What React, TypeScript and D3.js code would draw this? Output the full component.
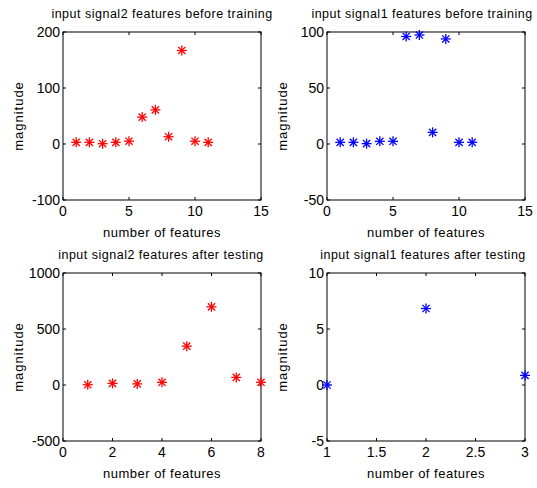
import React from "react";
import * as d3 from "d3";

// Feature magnitudes per panel
const featTrain2 = [3, 3, 0.5, 3, 5, 48, 61, 13, 167, 5, 3];
const featTrain1 = [1.5, 1.5, 0.3, 2.4, 2.4, 96, 97.3, 10.4, 93.8, 1.5, 1.5];
const featTest2 = [2, 15, 10, 24, 347, 698, 68, 24];
const featTest1 = [0, 6.83, 0.86];

const titles = [
  "input signal2 features before training",
  "input signal1 features before training",
  "input signal2 features after testing",
  "input signal1 features after testing",
];

const xTicksTrain = [0, 5, 10, 15];
const yTicksTrain2 = [-100, 0, 100, 200];
const yTicksTrain1 = [-50, 0, 50, 100];
const xTicksTest2 = [0, 2, 4, 6, 8];
const yTicksTest2 = [-500, 0, 500, 1000];
const xTicksTest1 = [1, 1.5, 2, 2.5, 3];
const yTicksTest1 = [-5, 0, 5, 10];

type PanelProps = {
  left: number;
  top: number;
  title: string;
  titleDx: number;
  values: number[];
  xDomain: [number, number];
  yDomain: [number, number];
  xTicks: number[];
  yTicks: number[];
  color: string;
};

const W = 198;
const H = 168;
const FONT = "Liberation Sans, Arial, sans-serif";

function Star({ x, y, color }: { x: number; y: number; color: string }) {
  const r = 5;
  const d = 3.6;
  return (
    <g stroke={color} strokeWidth={1.3}>
      <line x1={x - r} y1={y} x2={x + r} y2={y} />
      <line x1={x} y1={y - r} x2={x} y2={y + r} />
      <line x1={x - d} y1={y - d} x2={x + d} y2={y + d} />
      <line x1={x - d} y1={y + d} x2={x + d} y2={y - d} />
    </g>
  );
}

function Panel(p: PanelProps) {
  const x = d3.scaleLinear().domain(p.xDomain).range([0, W]);
  const y = d3.scaleLinear().domain(p.yDomain).range([H, 0]);
  const tk = 3;
  return (
    <g transform={`translate(${p.left},${p.top})`} fontFamily={FONT}>
      <text
        x={W / 2 + p.titleDx}
        y={-14}
        textAnchor="middle"
        fontSize={12.5}
        letterSpacing={0.5}
      >
        {p.title}
      </text>
      <rect x={0} y={0} width={W} height={H} fill="white" stroke="black" strokeWidth={1} />
      {p.xTicks.map((t) => (
        <g key={"x" + t}>
          <line x1={x(t)} x2={x(t)} y1={H} y2={H - tk} stroke="black" />
          <line x1={x(t)} x2={x(t)} y1={0} y2={tk} stroke="black" />
          <text x={x(t)} y={H + 16} textAnchor="middle" fontSize={14}>
            {t}
          </text>
        </g>
      ))}
      {p.yTicks.map((t) => (
        <g key={"y" + t}>
          <line x1={0} x2={tk} y1={y(t)} y2={y(t)} stroke="black" />
          <line x1={W} x2={W - tk} y1={y(t)} y2={y(t)} stroke="black" />
          <text x={-3} y={y(t) + 5} textAnchor="end" fontSize={14}>
            {t}
          </text>
        </g>
      ))}
      <text x={W / 2} y={H + 37} textAnchor="middle" fontSize={13} letterSpacing={0.5}>
        number of features
      </text>
      <text
        transform={`translate(-40,${H / 2}) rotate(-90)`}
        textAnchor="middle"
        fontSize={13}
        letterSpacing={1}
      >
        magnitude
      </text>
      {p.values.map((v, i) => (
        <Star key={i} x={x(i + 1)} y={y(v)} color={p.color} />
      ))}
    </g>
  );
}

export default function App() {
  return (
    <svg
      width={537}
      height={488}
      style={{ position: "absolute", left: 0, top: 0, background: "white" }}
    >
      <rect width={537} height={488} fill="white" />
      <Panel
        left={63}
        top={32}
        title={titles[0]}
        titleDx={0}
        values={featTrain2}
        xDomain={[0, 15]}
        yDomain={[-100, 200]}
        xTicks={xTicksTrain}
        yTicks={yTicksTrain2}
        color="#ff0000"
      />
      <Panel
        left={327}
        top={32}
        title={titles[1]}
        titleDx={-4}
        values={featTrain1}
        xDomain={[0, 15]}
        yDomain={[-50, 100]}
        xTicks={xTicksTrain}
        yTicks={yTicksTrain1}
        color="#0000ff"
      />
      <Panel
        left={63}
        top={273}
        title={titles[2]}
        titleDx={-1}
        values={featTest2}
        xDomain={[0, 8]}
        yDomain={[-500, 1000]}
        xTicks={xTicksTest2}
        yTicks={yTicksTest2}
        color="#ff0000"
      />
      <Panel
        left={327}
        top={273}
        title={titles[3]}
        titleDx={-3}
        values={featTest1}
        xDomain={[1, 3]}
        yDomain={[-5, 10]}
        xTicks={xTicksTest1}
        yTicks={yTicksTest1}
        color="#0000ff"
      />
    </svg>
  );
}
